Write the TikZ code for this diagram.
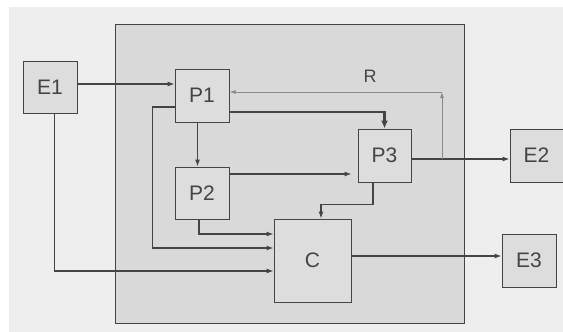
\documentclass[tikz,border=0pt]{standalone}
\usepackage{fontspec}
\setmainfont{Liberation Sans}
\usetikzlibrary{arrows.meta,calc}
\definecolor{bgc}{HTML}{EEEEEE}
\definecolor{panel}{HTML}{D9D9D9}
\definecolor{boxf}{HTML}{DDDDDD}
\definecolor{ink}{HTML}{444444}
\definecolor{rink}{HTML}{8A8A8A}
\tikzset{
  blk/.style={draw=ink, line width=1pt, fill=boxf, inner sep=0pt, font=\fontsize{21}{23}\selectfont, text=ink},
  arr/.style={draw=ink, line width=1.1pt, -{Latex[length=7pt,width=5pt]}},
  thk/.style={draw=ink, line width=2.2pt, -{Latex[length=8pt,width=7pt]}},
  rarr/.style={draw=rink, line width=0.8pt, -{Latex[length=6pt,width=4pt]}},
}
\begin{document}
\begin{tikzpicture}[x={(1pt,0)}, y={(0,-1pt)}]
\useasboundingbox (0,0) rectangle (563,332);
\fill[bgc] (0,0) rectangle (563,332);
\fill[white] (0,0) rectangle (563,7);
\fill[white] (0,0) rectangle (9,332);
\draw[ink, line width=1pt, fill=panel] (115,24) rectangle (464,323);
% nodes
\node[blk, minimum width=54pt, minimum height=52pt] (E1) at (50,87) {E1};
\node[blk, minimum width=54pt, minimum height=53pt] (P1) at (202,95.5) {P1};
\node[blk, minimum width=54pt, minimum height=52pt] (P2) at (202,193) {P2};
\node[blk, minimum width=53pt, minimum height=53pt] (P3) at (384.5,155.5) {P3};
\node[blk, minimum width=77pt, minimum height=83pt] (C) at (312.5,260.5) {C};
\node[blk, minimum width=53pt, minimum height=53pt] (E2) at (536.5,155.5) {E2};
\node[blk, minimum width=54pt, minimum height=53pt] (E3) at (529,260.5) {E3};
\node[font=\fontsize{18}{20}\selectfont, text=ink] (R) at (370,76) {R};
% connectors
\draw[arr] ([yshift=3pt]E1.east) -- ([yshift=11.5pt]P1.west);
\draw[arr] ([xshift=-4.5pt]P1.south) -- ([xshift=-4.5pt]P2.north);
\draw[thk] ([yshift=-16.5pt]P1.east) -| (P3.north);
\draw[arr, shorten >=6pt] ([yshift=19pt]P2.east) -- ([yshift=-18.5pt]P3.west);
\draw[arr] ([yshift=-11.5pt]P1.west) -- ++(-22,0) |- ([yshift=12.5pt]C.west);
\draw[arr] ([xshift=-3pt]P2.south) |- ([yshift=26.5pt]C.west);
\draw[arr] ([xshift=4.5pt]E1.south) |- ([yshift=-10.5pt]C.west);
\draw[arr] ([xshift=-11.5pt]P3.south) -- ++(0,22) -| ([xshift=8.5pt]C.north);
\draw[arr] ([yshift=-3.5pt]P3.east) -- ([yshift=-3.5pt]E2.west);
\draw[arr] ([yshift=4.5pt]C.east) -- ([yshift=4.5pt]E3.west);
% feedback R
\coordinate (rj) at (442,159);
\coordinate (rc) at (442,92);
\draw[rarr] (rj) -- (rc);
\draw[rarr] (rc) -- (rc -| P1.east);
\end{tikzpicture}
\end{document}
